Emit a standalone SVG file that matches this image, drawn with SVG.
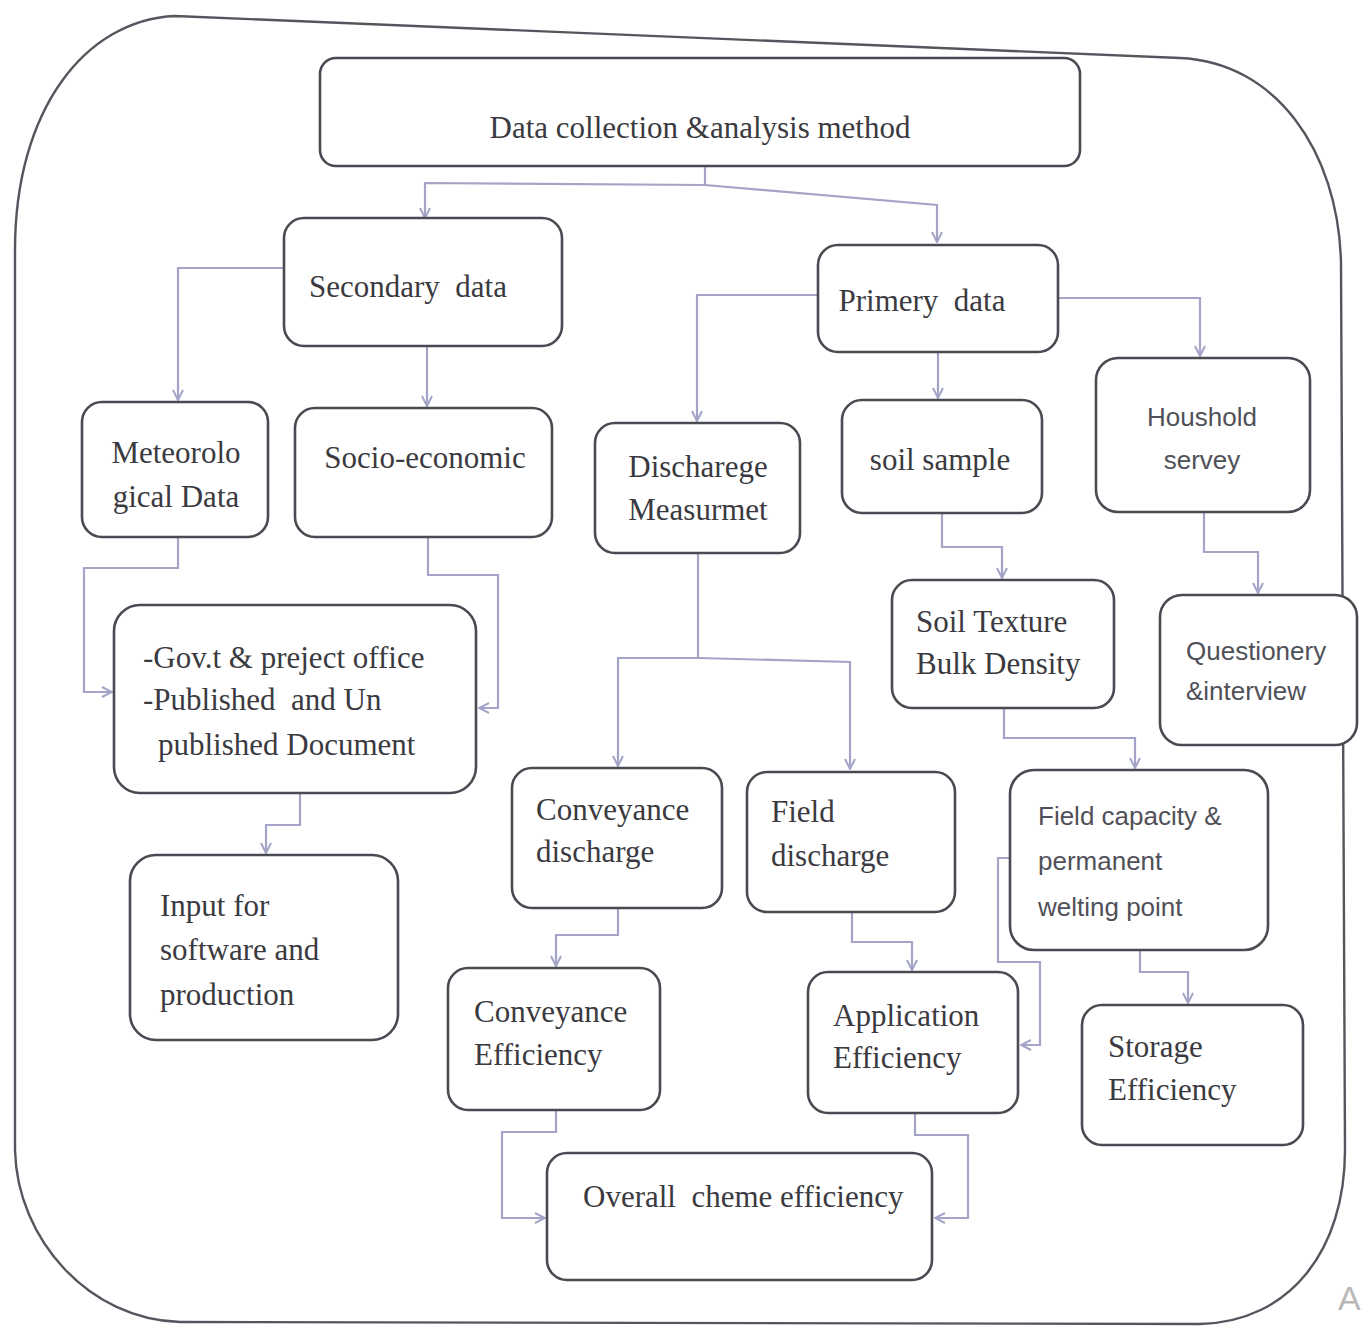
<svg xmlns="http://www.w3.org/2000/svg" width="1365" height="1332" viewBox="0 0 1365 1332">
<style>
.box{fill:#fff;stroke:#4a4a52;stroke-width:2.6}
.t{font-family:"Liberation Serif","Times New Roman",serif;font-size:31px;fill:#3a3a40;white-space:pre}
.s{font-family:"Liberation Sans",Arial,sans-serif;font-size:26px;fill:#505058;white-space:pre}
.m{text-anchor:middle}
.c{fill:none;stroke:#a4a4c8;stroke-width:2.2}
.frame{fill:none;stroke:#55555e;stroke-width:2.4}
</style>
<defs>
<marker id="ah" viewBox="0 0 12 12" refX="11" refY="6" markerWidth="12" markerHeight="12" markerUnits="userSpaceOnUse" orient="auto">
<path d="M1,1 L11,6 L1,11" fill="none" stroke="#a4a4c8" stroke-width="2"/>
</marker>
</defs>
<rect width="1365" height="1332" fill="#fff"/>
<path class="frame" d="M15,250 C15,110 85,20 175,16 L1180,58 C1275,62 1338,150 1341,262 L1345,1150 C1345,1250 1290,1322 1200,1324 L180,1322 C90,1320 17,1240 15,1150 Z"/>
<circle cx="393" cy="88" r="2.5" fill="#444"/>
<text x="1338" y="1310" style="font-family:'Liberation Sans',Arial,sans-serif;font-size:34px;fill:#b8b8b8">A</text>

<g id="connectors">
<path class="c" d="M705,166 V185"/>
<path class="c" d="M705,185 L425,183 V218" marker-end="url(#ah)"/>
<path class="c" d="M705,185 L937,205 V242" marker-end="url(#ah)"/>
<path class="c" d="M284,268 H178 V400" marker-end="url(#ah)"/>
<path class="c" d="M427,345 V406" marker-end="url(#ah)"/>
<path class="c" d="M818,295 H697 V421" marker-end="url(#ah)"/>
<path class="c" d="M938,352 V398" marker-end="url(#ah)"/>
<path class="c" d="M1058,298 H1200 V356" marker-end="url(#ah)"/>
<path class="c" d="M178,537 V568 H84 V692 H112" marker-end="url(#ah)"/>
<path class="c" d="M428,537 V575 H498 V708 H479" marker-end="url(#ah)"/>
<path class="c" d="M300,793 V825 H266 V853" marker-end="url(#ah)"/>
<path class="c" d="M698,553 V658"/>
<path class="c" d="M698,658 H618 V766" marker-end="url(#ah)"/>
<path class="c" d="M698,658 L850,662 V769" marker-end="url(#ah)"/>
<path class="c" d="M942,513 V547 H1002 V578" marker-end="url(#ah)"/>
<path class="c" d="M1204,512 V552 H1258 V593" marker-end="url(#ah)"/>
<path class="c" d="M1004,708 V738 H1135 V768" marker-end="url(#ah)"/>
<path class="c" d="M618,908 V935 H556 V966" marker-end="url(#ah)"/>
<path class="c" d="M852,912 V942 H912 V970" marker-end="url(#ah)"/>
<path class="c" d="M1010,858 H998 V962 H1040 V1045 H1021" marker-end="url(#ah)"/>
<path class="c" d="M1140,950 V972 H1188 V1003" marker-end="url(#ah)"/>
<path class="c" d="M556,1110 V1132 H502 V1218 H545" marker-end="url(#ah)"/>
<path class="c" d="M915,1113 V1135 H968 V1218 H935" marker-end="url(#ah)"/>
</g>

<g id="n-top"><rect class="box" x="320" y="58" width="760" height="108" rx="16"/><text class="t m" x="700" y="138">Data collection &amp;analysis method</text></g>
<g id="n-secondary"><rect class="box" x="284" y="218" width="278" height="128" rx="20"/><text class="t m" x="408" y="297">Secondary  data</text></g>
<g id="n-primary"><rect class="box" x="818" y="245" width="240" height="107" rx="20"/><text class="t m" x="922" y="311">Primery  data</text></g>
<g id="n-meteo"><rect class="box" x="82" y="402" width="186" height="135" rx="20"/><text class="t m" x="176" y="463">Meteorolo</text><text class="t m" x="176" y="507">gical Data</text></g>
<g id="n-socio"><rect class="box" x="295" y="408" width="257" height="129" rx="20"/><text class="t m" x="425" y="468">Socio-economic</text></g>
<g id="n-discharge"><rect class="box" x="595" y="423" width="205" height="130" rx="20"/><text class="t m" x="698" y="477">Discharege</text><text class="t m" x="698" y="520">Measurmet</text></g>
<g id="n-soil"><rect class="box" x="842" y="400" width="200" height="113" rx="20"/><text class="t m" x="940" y="470">soil sample</text></g>
<g id="n-household"><rect class="box" x="1096" y="358" width="214" height="154" rx="22"/><text class="s m" x="1202" y="426">Houshold</text><text class="s m" x="1202" y="469">servey</text></g>
<g id="n-govt"><rect class="box" x="114" y="605" width="362" height="188" rx="26"/><text class="t" x="143" y="668">-Gov.t &amp; preject office</text><text class="t" x="143" y="710">-Published  and Un</text><text class="t" x="158" y="755">published Document</text></g>
<g id="n-texture"><rect class="box" x="892" y="580" width="222" height="128" rx="20"/><text class="t" x="916" y="632">Soil Texture</text><text class="t" x="916" y="674">Bulk Density</text></g>
<g id="n-quest"><rect class="box" x="1160" y="595" width="197" height="150" rx="22"/><text class="s" x="1186" y="660">Questionery</text><text class="s" x="1186" y="700">&amp;interview</text></g>
<g id="n-input"><rect class="box" x="130" y="855" width="268" height="185" rx="26"/><text class="t" x="160" y="916">Input for</text><text class="t" x="160" y="960">software and</text><text class="t" x="160" y="1005">production</text></g>
<g id="n-convdis"><rect class="box" x="512" y="768" width="210" height="140" rx="20"/><text class="t" x="536" y="820">Conveyance</text><text class="t" x="536" y="862">discharge</text></g>
<g id="n-fielddis"><rect class="box" x="747" y="772" width="208" height="140" rx="20"/><text class="t" x="771" y="822">Field</text><text class="t" x="771" y="866">discharge</text></g>
<g id="n-fieldcap"><rect class="box" x="1010" y="770" width="258" height="180" rx="24"/><text class="s" x="1038" y="825">Field capacity &amp;</text><text class="s" x="1038" y="870">permanent</text><text class="s" x="1038" y="916">welting point</text></g>
<g id="n-conveff"><rect class="box" x="448" y="968" width="212" height="142" rx="20"/><text class="t" x="474" y="1022">Conveyance</text><text class="t" x="474" y="1065">Efficiency</text></g>
<g id="n-appeff"><rect class="box" x="808" y="972" width="210" height="141" rx="20"/><text class="t" x="833" y="1026">Application</text><text class="t" x="833" y="1068">Efficiency</text></g>
<g id="n-storage"><rect class="box" x="1082" y="1005" width="221" height="140" rx="20"/><text class="t" x="1108" y="1057">Storage</text><text class="t" x="1108" y="1100">Efficiency</text></g>
<g id="n-overall"><rect class="box" x="547" y="1153" width="385" height="127" rx="20"/><text class="t" x="583" y="1207">Overall  cheme efficiency</text></g>
</svg>
